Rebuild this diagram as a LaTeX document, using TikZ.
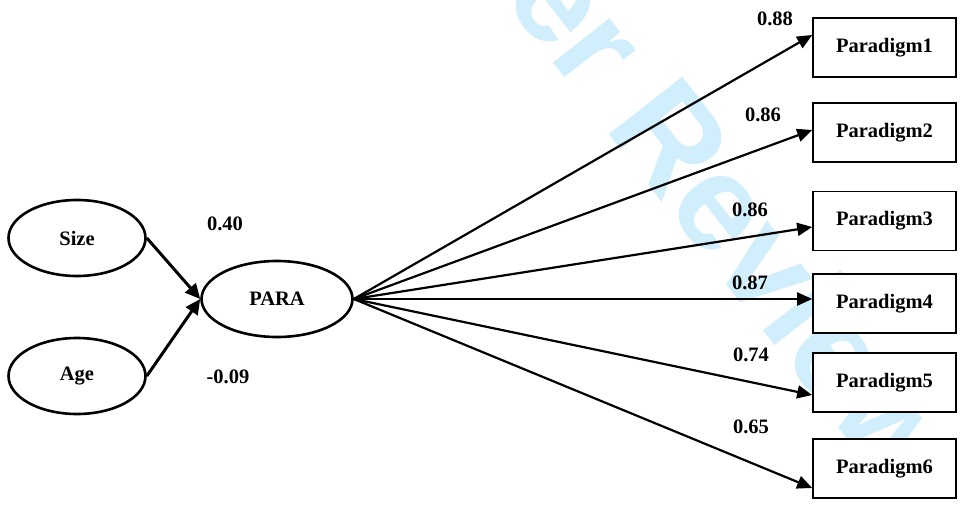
\documentclass[tikz,border=0pt]{standalone}
\usepackage{fontspec}
\setmainfont{Liberation Serif}
\newfontfamily\wmfont{Liberation Sans}
\usetikzlibrary{arrows.meta,shapes.geometric}
\definecolor{wmblue}{RGB}{208,238,251}
\tikzset{
  latent/.style={ellipse, draw, line width=2.6pt, fill=white, minimum width=137pt, minimum height=76pt, inner sep=0pt,
    font=\fontsize{20.5}{24}\selectfont\bfseries},
  indicator/.style={rectangle, draw, line width=1.6pt, fill=white, minimum width=143pt, minimum height=59pt, inner sep=0pt,
    font=\fontsize{20.5}{24}\selectfont\bfseries},
  coef/.style={inner sep=0pt, font=\fontsize{20.5}{24}\selectfont\bfseries},
  path/.style={line width=3pt, -{Triangle[length=15pt,width=14pt]}},
  load/.style={line width=2.2pt, -{Triangle[length=15pt,width=13pt]}},
}
\begin{document}
\begin{tikzpicture}[x=1pt,y=-1pt]
\useasboundingbox (0,0) rectangle (963,508);
\clip (0,0) rectangle (963,508);
\fill[white] (0,0) rectangle (963,508);

% watermark
\node[rotate=-52, text=wmblue, inner sep=0pt, font=\wmfont\bfseries\fontsize{136}{140}\selectfont] (wm) at (605,50) {For Peer Review};

% latent variables
\node[latent] (sz) at (77,238) {Size};
\node[latent] (ag) at (77,376) {Age};
\node[latent, minimum width=151pt] (para) at (277,299) {PARA};

% indicators
\node[indicator] (p1) at (884.5,47.5) {\raisebox{2pt}{Paradigm1}};
\node[indicator] (p2) at (884.5,132.5) {\raisebox{2pt}{Paradigm2}};
\node[indicator] (p3) at (884.5,221) {\raisebox{2pt}{Paradigm3}};
\node[indicator] (p4) at (884.5,303.5) {\raisebox{2pt}{Paradigm4}};
\node[indicator] (p5) at (884.5,382.5) {\raisebox{2pt}{Paradigm5}};
\node[indicator] (p6) at (884.5,468.5) {\raisebox{2pt}{Paradigm6}};

% structural paths
\draw[path] (sz.east) -- (para.west);
\draw[path] (ag.east) -- (para.west);

% loadings
\draw[load] (para.east) -- ([yshift=12.5pt]p1.west);
\draw[load] (para.east) -- ([yshift=2.5pt]p2.west);
\draw[load] (para.east) -- ([yshift=-6pt]p3.west);
\draw[load] (para.east) -- ([yshift=4.5pt]p4.west);
\draw[load] (para.east) -- ([yshift=-12.5pt]p5.west);
\draw[load] (para.east) -- ([yshift=-19.5pt]p6.west);

% coefficients
\node[coef] (c1) at (225,224) {0.40};
\node[coef] (c2) at (228,377) {-0.09};
\node[coef] (l1) at (775,19) {0.88};
\node[coef] (l2) at (763,115) {0.86};
\node[coef] (l3) at (750,210) {0.86};
\node[coef] (l4) at (750,283) {0.87};
\node[coef] (l5) at (751,355) {0.74};
\node[coef] (l6) at (751,427) {0.65};
\end{tikzpicture}
\end{document}
